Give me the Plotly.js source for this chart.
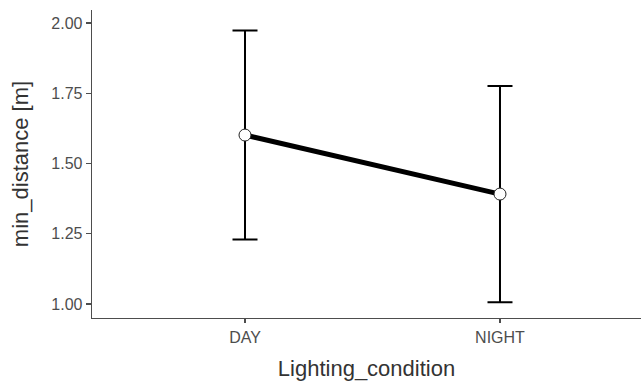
<!DOCTYPE html>
<html><head><meta charset="utf-8">
<script src="https://cdn.plot.ly/plotly-3.0.1.min.js"></script>
<style>html,body{margin:0;padding:0;background:#fff}#chart{width:641px;height:383px}</style>
</head><body><div id="chart"></div>
<script>
const categories = ["DAY", "NIGHT"];
const meanValues = [1.601, 1.391];
const errorValues = [0.372, 0.385];
const yTickVals = [1.00, 1.25, 1.50, 1.75, 2.00];
const yTickText = ["1.00", "1.25", "1.50", "1.75", "2.00"];

const traces = [
  {
    x: categories, y: meanValues, type: "scatter", mode: "lines",
    line: {color: "#000", width: 5}, hoverinfo: "skip", showlegend: false,
    error_y: {type: "data", array: errorValues, visible: true, color: "#000", thickness: 2, width: 12.5}
  },
  {
    x: categories, y: meanValues, type: "scatter", mode: "markers",
    marker: {size: 12, color: "#fff", line: {color: "#222", width: 1}}, showlegend: false
  }
];

const layout = {
  width: 641, height: 383,
  margin: {l: 92, r: 0, t: 10, b: 65},
  paper_bgcolor: "#fff", plot_bgcolor: "#fff",
  font: {family: "Liberation Sans, Arial, sans-serif"},
  showlegend: false,
  xaxis: {
    type: "category", range: [-0.6, 1.553],
    showgrid: false, zeroline: false,
    showline: true, linecolor: "#4d4d4d", linewidth: 1.3,
    ticks: "outside", ticklen: 4, tickwidth: 1.3, tickcolor: "#4d4d4d",
    tickfont: {size: 16, color: "#4d4d4d"},
    title: {text: "Lighting_condition", font: {size: 22, color: "#333"}, standoff: 16}
  },
  yaxis: {
    range: [0.95, 2.046],
    tickvals: yTickVals, ticktext: yTickText,
    showgrid: false, zeroline: false,
    showline: true, linecolor: "#4d4d4d", linewidth: 1.3,
    ticks: "outside", ticklen: 5, tickwidth: 1.3, tickcolor: "#4d4d4d",
    tickfont: {size: 16, color: "#4d4d4d"},
    title: {text: "min_distance [m]", font: {size: 22, color: "#333"}, standoff: 16}
  }
};
Plotly.newPlot("chart", traces, layout, {displayModeBar: false, staticPlot: true});
</script></body></html>
